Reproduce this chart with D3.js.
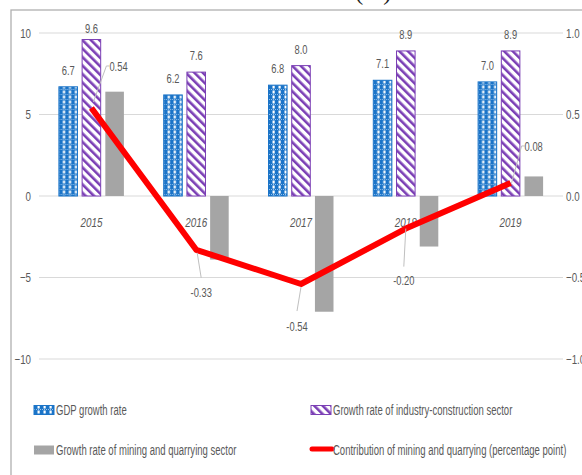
<!DOCTYPE html>
<html>
<head>
<meta charset="utf-8">
<script src="https://cdn.jsdelivr.net/npm/d3@7"></script>
<style>
  html, body { margin: 0; padding: 0; background: #fff; overflow: hidden; }
  svg { display: block; }
  text { font-family: "Liberation Sans", Arial, sans-serif; fill: #595959; }
</style>
</head>
<body>
<svg id="chart" width="582" height="475"></svg>
<script>
// Years on the category axis
const years = ["2015", "2016", "2017", "2018", "2019"];
// Growth rates, percent (left axis)
const gdpGrowth = [6.7, 6.2, 6.8, 7.1, 7.0];
const industryGrowth = [9.6, 7.6, 8.0, 8.9, 8.9];
const miningGrowth = [6.4, -3.9, -7.1, -3.1, 1.2];
// Contribution of mining and quarrying, percentage points (right axis)
const miningContribution = [0.54, -0.33, -0.54, -0.20, 0.08];
// Axis ticks
const leftTicks = [10, 5, 0, -5, -10];
const rightTicks = [1.0, 0.5, 0.0, -0.5, -1.0];
const seriesNames = ["gdp", "industry", "mining"];

const svg = d3.select("#chart");
const defs = svg.append("defs");

// Narrow the glyphs horizontally around each text's anchor point
function condense(sel, k) {
  sel.each(function () {
    const t = d3.select(this);
    const x = +t.attr("x") || 0;
    const y = +t.attr("y") || 0;
    t.attr("x", 0).attr("y", 0).attr("transform", `translate(${x},${y}) scale(${k},1)`);
  });
}

// Blue grid pattern for GDP bars
const pGdp = defs.append("pattern").attr("id", "pat-gdp")
  .attr("patternUnits", "userSpaceOnUse").attr("width", 6).attr("height", 5);
pGdp.append("rect").attr("width", 6).attr("height", 5).attr("fill", "#1b74c8");
pGdp.append("rect").attr("x", 1.5).attr("y", 0.5).attr("width", 2.2).attr("height", 3).attr("fill", "#ffffff");
pGdp.append("line").attr("x1", 0).attr("x2", 6).attr("y1", 4.5).attr("y2", 4.5)
  .attr("stroke", "#b5d6f4").attr("stroke-width", 0.8).attr("stroke-dasharray", "1 1");

// Purple diagonal stripes for industry bars
const pInd = defs.append("pattern").attr("id", "pat-ind")
  .attr("patternUnits", "userSpaceOnUse").attr("width", 6).attr("height", 6)
  .attr("patternTransform", "rotate(-45)");
pInd.append("rect").attr("width", 6).attr("height", 6).attr("fill", "#ffffff");
pInd.append("rect").attr("x", 0).attr("y", 0).attr("width", 2.6).attr("height", 6).attr("fill", "#7b3fb5");

const fills = { gdp: "url(#pat-gdp)", industry: "url(#pat-ind)", mining: "#a5a5a5" };
const strokes = { gdp: "#1b74c8", industry: "#7b3fb5", mining: "none" };
const values = { gdp: gdpGrowth, industry: industryGrowth, mining: miningGrowth };

// Outer frame
svg.append("rect").attr("x", 11).attr("y", 10).attr("width", 600).attr("height", 500)
  .attr("fill", "none").attr("stroke", "#b0b0b0").attr("stroke-width", 1.3);

// Title (sits above the frame)
svg.append("text").attr("x", 308).attr("y", 0).attr("text-anchor", "middle")
  .style("font-family", "'Liberation Serif', serif").style("font-size", "24px")
  .style("fill", "#222").text("Growth rates (%)");

const plotLeft = 39, plotRight = 563;
const y = d3.scaleLinear().domain([-10, 10]).range([359, 33]);
const yR = d3.scaleLinear().domain([-1, 1]).range([359, 33]);
const x0 = d3.scaleBand().domain(years).range([plotLeft, plotRight]);
const x1 = d3.scaleBand().domain(seriesNames).range([-32.5, 32.5]).paddingInner(0.2);
const cx = yr => x0(yr) + x0.bandwidth() / 2;

// Gridlines
svg.append("g").selectAll("line").data(leftTicks).join("line")
  .attr("x1", plotLeft).attr("x2", plotRight)
  .attr("y1", d => y(d)).attr("y2", d => y(d))
  .attr("stroke", "#d9d9d9").attr("stroke-width", 1);

// Left axis
const axL = svg.append("g").attr("transform", `translate(${plotLeft - 8},0)`)
  .call(d3.axisLeft(y).tickValues(leftTicks).tickSize(0).tickPadding(0).tickFormat(d3.format("d")));
axL.select(".domain").remove();
axL.selectAll("text").style("font-size", "13px").style("fill", "#595959");
condense(axL.selectAll("text"), 0.75);

// Right axis
const axR = svg.append("g").attr("transform", `translate(${plotRight + 3},0)`)
  .call(d3.axisRight(yR).tickValues(rightTicks).tickSize(0).tickPadding(0).tickFormat(d3.format(".1f")));
axR.select(".domain").remove();
axR.selectAll("text").style("font-size", "13px").style("fill", "#595959");
condense(axR.selectAll("text"), 0.75);

// Bars
const groups = svg.append("g").selectAll("g").data(years).join("g")
  .attr("transform", yr => `translate(${cx(yr)},0)`);
seriesNames.forEach(s => {
  groups.append("rect")
    .attr("x", x1(s))
    .attr("width", x1.bandwidth())
    .attr("y", (yr, i) => y(Math.max(0, values[s][i])))
    .attr("height", (yr, i) => Math.abs(y(values[s][i]) - y(0)))
    .attr("fill", fills[s])
    .attr("stroke", strokes[s])
    .attr("stroke-width", 1);
});

// Bar value labels for GDP and industry
["gdp", "industry"].forEach(s => {
  const lbl = groups.append("text")
    .attr("x", x1(s) + x1.bandwidth() / 2)
    .attr("y", (yr, i) => Math.max(y(values[s][i]) - 12, 33))
    .attr("text-anchor", "middle")
    .style("font-size", "13px")
    .text((yr, i) => values[s][i].toFixed(1));
  condense(lbl, 0.72);
});

// Category labels
const cat = svg.append("g").selectAll("text").data(years).join("text")
  .attr("x", yr => cx(yr)).attr("y", 227)
  .attr("text-anchor", "middle")
  .style("font-size", "13px").style("font-style", "italic")
  .text(yr => yr);
condense(cat, 0.76);

// Contribution line
const pts = years.map((yr, i) => [cx(yr), yR(miningContribution[i])]);
svg.append("path").attr("d", d3.line()(pts))
  .attr("fill", "none").attr("stroke", "#ff0000").attr("stroke-width", 6)
  .attr("stroke-linejoin", "round");

// Line labels with leader lines (offsets from each point)
const labelOffsets = [
  { dx: 18, dy: -42, lead: [[2, -6], [15, -42], [18, -42]], anchor: "start" },
  { dx: 5, dy: 43, lead: [[1, 3], [5, 28]], anchor: "middle" },
  { dx: -4, dy: 42, lead: [[0, 3], [-4, 27]], anchor: "middle" },
  { dx: -2, dy: 52, lead: [[0, 0], [-2, 38]], anchor: "middle" },
  { dx: 14, dy: -37, lead: [[1, 0], [11, -37], [14, -37]], anchor: "start" }
];
pts.forEach((p, i) => {
  const o = labelOffsets[i];
  svg.append("path")
    .attr("d", d3.line()(o.lead.map(([a, b]) => [p[0] + a, p[1] + b])))
    .attr("fill", "none").attr("stroke", "#bfbfbf").attr("stroke-width", 1);
  const t = svg.append("text")
    .attr("x", p[0] + o.dx).attr("y", p[1] + o.dy)
    .attr("dy", "0.35em")
    .attr("text-anchor", o.anchor)
    .style("font-size", "13px")
    .text(miningContribution[i].toFixed(2));
  condense(t, 0.72);
});

// Legend
const legend = [
  { x: 34, y: 410, kind: "rect", fill: fills.gdp, stroke: strokes.gdp, label: "GDP growth rate" },
  { x: 311, y: 410, kind: "rect", fill: fills.industry, stroke: strokes.industry, label: "Growth rate of industry-construction sector" },
  { x: 34, y: 450, kind: "rect", fill: fills.mining, stroke: "none", label: "Growth rate of mining and quarrying sector" },
  { x: 311, y: 450, kind: "line", label: "Contribution of mining and quarrying (percentage point)" }
];
legend.forEach(l => {
  if (l.kind === "rect") {
    svg.append("rect").attr("x", l.x).attr("y", l.y - 4.5).attr("width", 20).attr("height", 9)
      .attr("fill", l.fill).attr("stroke", l.stroke).attr("stroke-width", 1);
  } else {
    svg.append("line").attr("x1", l.x + 1).attr("x2", l.x + 21).attr("y1", l.y - 1).attr("y2", l.y - 1)
      .attr("stroke", "#ff0000").attr("stroke-width", 5).attr("stroke-linecap", "round");
  }
  const t = svg.append("text").attr("x", l.x + 22).attr("y", l.y).attr("dy", "0.35em")
    .style("font-size", "14px").text(l.label);
  condense(t, 0.68);
});
</script>
</body>
</html>
